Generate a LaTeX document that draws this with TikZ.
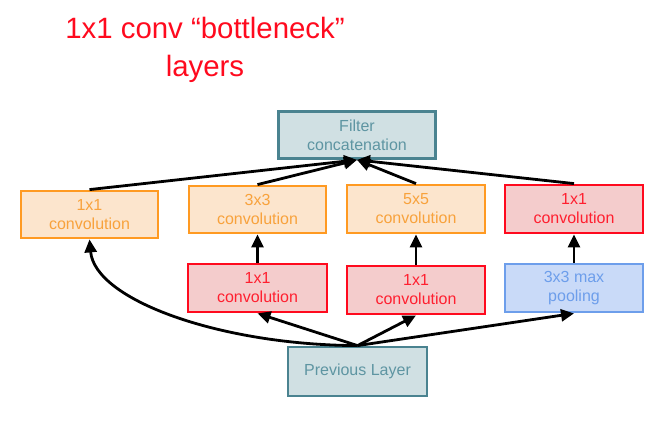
\documentclass[tikz,border=0pt]{standalone}
\usepackage{fontspec}
\setmainfont{Liberation Sans}
\usetikzlibrary{arrows.meta}
\definecolor{tealfill}{HTML}{D0E0E3}
\definecolor{tealdraw}{HTML}{4A8390}
\definecolor{tealtext}{HTML}{5E95A2}
\definecolor{orfill}{HTML}{FCE5CD}
\definecolor{ordraw}{HTML}{FF9A22}
\definecolor{ortext}{HTML}{F8A23C}
\definecolor{redfill}{HTML}{F4CCCC}
\definecolor{reddraw}{HTML}{FF0A1E}
\definecolor{redtext}{HTML}{FF1F2F}
\definecolor{bluefill}{HTML}{C9DAF8}
\definecolor{bluedraw}{HTML}{6D9EEB}
\definecolor{bluetext}{HTML}{6D9EEB}
\definecolor{titlered}{HTML}{FF0A1E}
\tikzset{
  box/.style={rectangle, line width=2.8pt, minimum width=137pt, minimum height=47pt,
    inner sep=0pt, align=center, font=\fontsize{16}{19}\selectfont},
  tealbox/.style={box, fill=tealfill, draw=tealdraw, text=tealtext},
  orbox/.style={box, fill=orfill, draw=ordraw, text=ortext},
  redbox/.style={box, fill=redfill, draw=reddraw, text=redtext},
  bluebox/.style={box, fill=bluefill, draw=bluedraw, text=bluetext},
  arr/.style={line width=2.8pt, -{Triangle[length=13pt,width=12pt]}}
}
\begin{document}
\begin{tikzpicture}[x=1pt,y=-1pt]
\useasboundingbox (0,0) rectangle (668,422);
\node[text=titlered, font=\fontsize{29.4}{37.5}\selectfont, align=center, anchor=base] (title) at (205,76.5) {1x1 conv “bottleneck”\\layers};

\node[tealbox, minimum width=157pt, minimum height=47pt] (concat) at (357,135) {Filter\\concatenation};
\node[orbox] (o1) at (89.5,214.5) {1x1\\convolution};
\node[orbox] (c33) at (257.5,209.5) {3x3\\convolution};
\node[orbox, minimum width=138pt, minimum height=48pt] (c55) at (416,209) {5x5\\convolution};
\node[redbox, minimum width=138pt, minimum height=48pt] (rr) at (574,209) {1x1\\convolution};
\node[redbox, minimum width=139pt, minimum height=48pt] (ra) at (257.5,288) {1x1\\convolution};
\node[redbox, minimum width=138pt, minimum height=48pt] (rb) at (416,290) {1x1\\convolution};
\node[bluebox, minimum width=138pt, minimum height=48pt] (pool) at (574,288) {3x3 max\\pooling};
\node[tealbox, minimum width=139pt, minimum height=49pt] (prev) at (357.5,371.5) {Previous Layer};

\draw[arr] (o1.north) -- (concat.south);
\draw[arr] (c33.north) -- (concat.south);
\draw[arr] (c55.north) -- (concat.south);
\draw[arr] (rr.north) -- (concat.south);

\draw[arr] (ra.north) -- (c33.south);
\draw[arr] (rb.north) -- (c55.south);
\draw[arr] (pool.north) -- (rr.south);

\draw[arr] (prev.north) -- (ra.south);
\draw[arr] (prev.north) -- (rb.south);
\draw[arr] (prev.north) -- (pool.south);
\draw[arr] (prev.north) .. controls (220,345) and (95,300) .. (o1.south);
\end{tikzpicture}
\end{document}
